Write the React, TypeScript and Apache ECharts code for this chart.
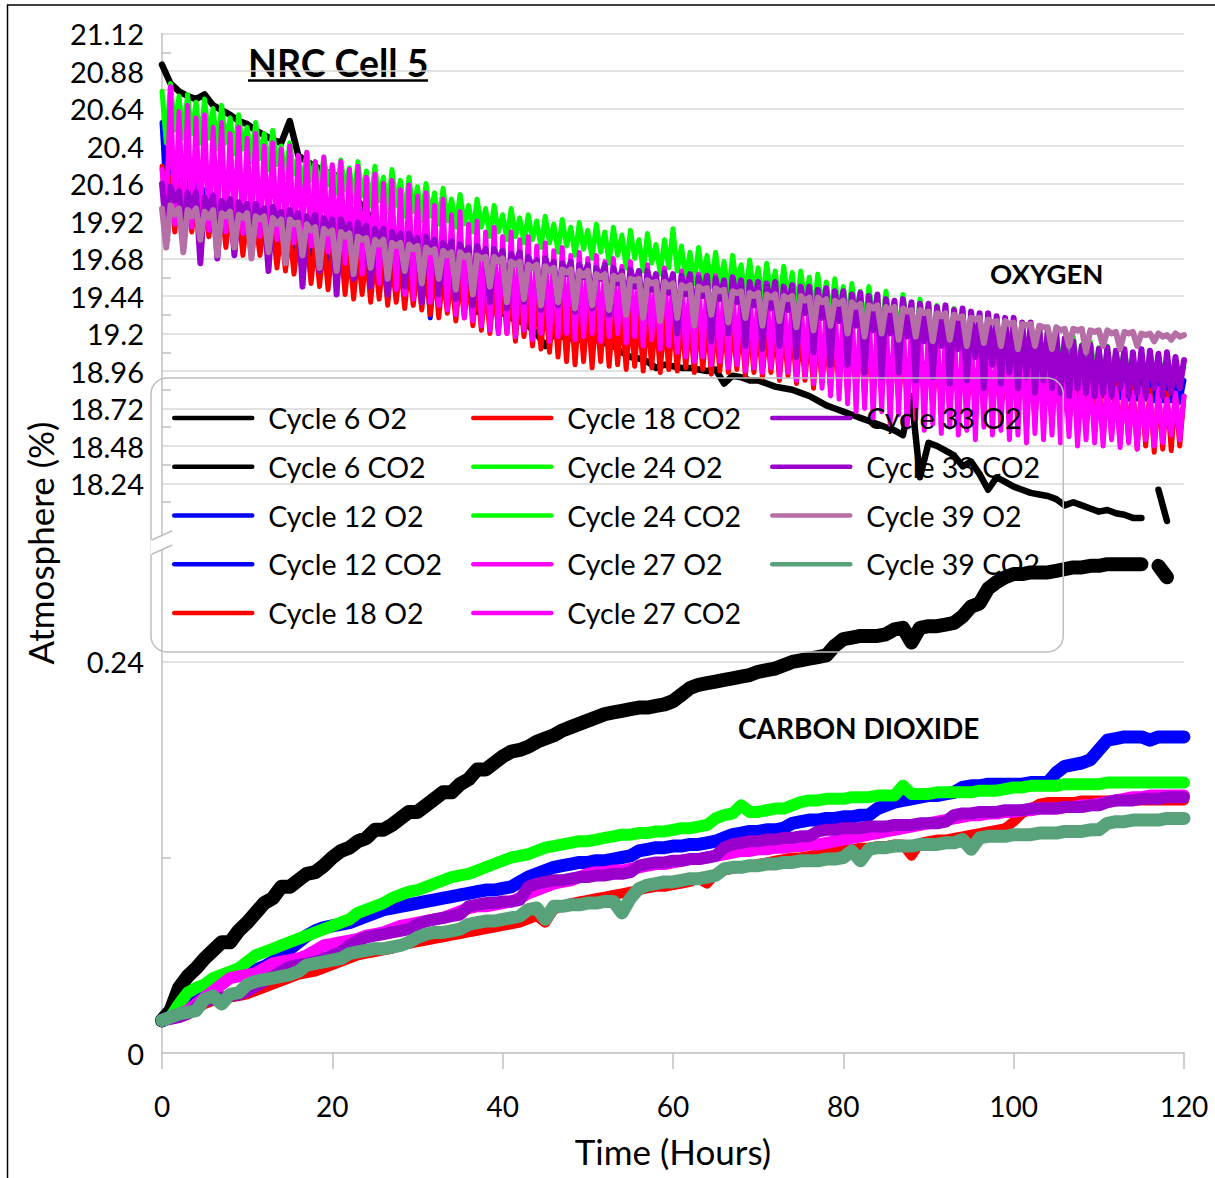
import React, { useEffect, useRef } from "react";
import * as echarts from "echarts";

const HOURS = [
  0, 1, 2, 3, 4, 5, 6, 7, 8, 9,
  10, 11, 12, 13, 14, 15, 16, 17, 18, 19,
  20, 21, 22, 23, 24, 25, 26, 27, 28, 29,
  30, 31, 32, 33, 34, 35, 36, 37, 38, 39,
  40, 41, 42, 43, 44, 45, 46, 47, 48, 49,
  50, 51, 52, 53, 54, 55, 56, 57, 58, 59,
  60, 61, 62, 63, 64, 65, 66, 67, 68, 69,
  70, 71, 72, 73, 74, 75, 76, 77, 78, 79,
  80, 81, 82, 83, 84, 85, 86, 87, 88, 89,
  90, 91, 92, 93, 94, 95, 96, 97, 98, 99,
  100, 101, 102, 103, 104, 105, 106, 107, 108, 109,
  110, 111, 112, 113, 114, 115, 116, 117, 118, 119, 120,
];
const HALF_HOURS = [
  0.5, 1.5, 2.5, 3.5, 4.5, 5.5, 6.5, 7.5, 8.5, 9.5,
  10.5, 11.5, 12.5, 13.5, 14.5, 15.5, 16.5, 17.5, 18.5, 19.5,
  20.5, 21.5, 22.5, 23.5, 24.5, 25.5, 26.5, 27.5, 28.5, 29.5,
  30.5, 31.5, 32.5, 33.5, 34.5, 35.5, 36.5, 37.5, 38.5, 39.5,
  40.5, 41.5, 42.5, 43.5, 44.5, 45.5, 46.5, 47.5, 48.5, 49.5,
  50.5, 51.5, 52.5, 53.5, 54.5, 55.5, 56.5, 57.5, 58.5, 59.5,
  60.5, 61.5, 62.5, 63.5, 64.5, 65.5, 66.5, 67.5, 68.5, 69.5,
  70.5, 71.5, 72.5, 73.5, 74.5, 75.5, 76.5, 77.5, 78.5, 79.5,
  80.5, 81.5, 82.5, 83.5, 84.5, 85.5, 86.5, 87.5, 88.5, 89.5,
  90.5, 91.5, 92.5, 93.5, 94.5, 95.5, 96.5, 97.5, 98.5, 99.5,
  100.5, 101.5, 102.5, 103.5, 104.5, 105.5, 106.5, 107.5, 108.5, 109.5,
  110.5, 111.5, 112.5, 113.5, 114.5, 115.5, 116.5, 117.5, 118.5, 119.5,
];

const O2_TICK_LABELS = [18.24, 18.48, 18.72, 18.96, 19.2, 19.44, 19.68, 19.92, 20.16, 20.4, 20.64, 20.88, 21.12];
const O2_MINOR_TICKS = [18.12, 18.36, 18.6, 18.84, 19.08, 19.32, 19.56, 19.8, 20.04, 20.28, 20.52, 20.76, 21.0];
const CO2_TICK_LABELS = [0, 0.24];
const CO2_MINOR_TICKS = [0.12];

// ---- Oxygen (%), hourly readings; for the noisy cycles also the dips between readings ----
const CYCLE6_O2 = [
  20.92, 20.8, 20.75, 20.72, 20.7, 20.73, 20.66, 20.63, 20.6, 20.56,
  20.54, 20.5, 20.47, 20.44, 20.42, 20.56, 20.34, 20.3, 20.27, 20.24,
  20.22, 20.2, 20.12, 20.05, 19.98, 19.9, 19.62, 19.82, 19.78, 19.74,
  19.7, 19.66, 19.62, 19.58, 19.54, 19.5, 19.46, 19.34, 19.4, 19.36,
  19.33, 19.3, 19.28, 19.25, 19.2, 19.12, 19.2, 19.18, 19.17, 19.16,
  19.18, 19.16, 19.14, 19.12, 19.08, 19.05, 19.04, 19.02, 18.98, 19.0,
  18.99, 18.98, 18.98, 18.97, 18.96, 18.97, 18.88, 18.93, 18.92, 18.9,
  18.9, 18.88, 18.86, 18.85, 18.84, 18.82, 18.8, 18.77, 18.74, 18.72,
  18.7, 18.68, 18.66, 18.64, 18.62, 18.6, 18.58, 18.55, 18.8, 18.28,
  18.5, 18.48, 18.45, 18.42, 18.35, 18.38, 18.3, 18.2, 18.28, 18.25,
  18.22, 18.2, 18.18, 18.17, 18.16, 18.14, 18.1, 18.12, 18.1, 18.08,
  18.06, 18.07, 18.05, 18.04, 18.02, 18.02, null, 18.2, 18.0, null, null,
];
const CYCLE12_O2_HI = [
  20.55, 20.3, 20.25, 20.2, 20.16, 20.12, 20.09, 20.05, 20.03, 20.0,
  19.98, 19.96, 19.94, 19.92, 19.9, 19.88, 19.86, 19.84, 19.82, 19.8,
  19.79, 19.78, 19.77, 19.76, 19.75, 19.74, 19.72, 19.71, 19.7, 19.69,
  19.68, 19.67, 19.66, 19.65, 19.64, 19.63, 19.62, 19.61, 19.6, 19.59,
  19.58, 19.57, 19.56, 19.55, 19.54, 19.53, 19.52, 19.51, 19.5, 19.49,
  19.48, 19.47, 19.46, 19.45, 19.44, 19.43, 19.42, 19.41, 19.4, 19.39,
  19.38, 19.37, 19.36, 19.35, 19.34, 19.33, 19.32, 19.31, 19.3, 19.29,
  19.28, 19.27, 19.26, 19.25, 19.24, 19.23, 19.22, 19.21, 19.2, 19.19,
  19.18, 19.17, 19.16, 19.15, 19.14, 19.13, 19.12, 19.11, 19.1, 19.09,
  19.08, 19.07, 19.06, 19.05, 19.05, 19.04, 19.03, 19.02, 19.01, 19.0,
  19.0, 18.99, 18.98, 18.97, 18.96, 18.96, 18.95, 18.94, 18.93, 18.93,
  18.92, 18.92, 18.91, 18.9, 18.9, 18.9, 18.9, 18.9, 18.9, 18.9, 18.9,
];
const CYCLE12_O2_LO = [
  20.1, 20.0, 19.95, 19.92, 19.9, 19.88, 19.85, 19.82, 19.8, 19.78,
  19.76, 19.75, 19.72, 19.7, 19.68, 19.66, 19.65, 19.62, 19.6, 19.58,
  19.57, 19.55, 19.54, 19.52, 19.5, 19.5, 19.48, 19.47, 19.46, 19.45,
  19.44, 19.3, 19.42, 19.4, 19.4, 19.38, 19.37, 19.36, 19.35, 19.2,
  19.33, 19.32, 19.3, 19.3, 19.28, 19.27, 19.26, 19.25, 19.24, 19.23,
  19.22, 19.21, 19.2, 19.2, 19.18, 19.18, 19.17, 19.16, 19.15, 19.15,
  19.14, 19.08, 19.12, 19.12, 19.1, 19.1, 19.09, 19.08, 19.07, 19.06,
  19.06, 19.05, 19.04, 19.03, 19.02, 19.02, 19.01, 19.0, 18.99, 18.98,
  18.98, 18.97, 18.96, 18.95, 18.95, 18.94, 18.93, 18.92, 18.92, 18.91,
  18.9, 18.88, 18.89, 18.78, 18.88, 18.87, 18.86, 18.86, 18.85, 18.85,
  18.84, 18.84, 18.83, 18.83, 18.82, 18.82, 18.81, 18.81, 18.8, 18.8,
  18.8, 18.79, 18.79, 18.78, 18.78, 18.78, 18.77, 18.77, 18.77, 18.76,
];
const CYCLE18_O2_HI = [
  20.27, 20.2, 20.15, 20.12, 20.1, 20.06, 20.03, 20.0, 19.98, 19.96,
  19.94, 19.92, 19.9, 19.88, 19.86, 19.84, 19.82, 19.8, 19.79, 19.78,
  19.76, 19.75, 19.73, 19.72, 19.7, 19.69, 19.68, 19.66, 19.65, 19.64,
  19.62, 19.61, 19.6, 19.58, 19.57, 19.56, 19.55, 19.53, 19.52, 19.5,
  19.5, 19.48, 19.47, 19.45, 19.44, 19.42, 19.41, 19.4, 19.39, 19.38,
  19.37, 19.36, 19.36, 19.35, 19.34, 19.33, 19.33, 19.32, 19.31, 19.3,
  19.3, 19.3, 19.29, 19.29, 19.28, 19.28, 19.27, 19.26, 19.26, 19.25,
  19.25, 19.24, 19.24, 19.23, 19.23, 19.22, 19.22, 19.21, 19.2, 19.2,
  19.2, 19.18, 19.17, 19.15, 19.14, 19.12, 19.1, 19.09, 19.08, 19.06,
  19.05, 19.05, 19.04, 19.04, 19.03, 19.02, 19.02, 19.01, 19.0, 19.0,
  19.0, 18.99, 18.98, 18.97, 18.96, 18.95, 18.94, 18.93, 18.92, 18.91,
  18.9, 18.89, 18.88, 18.87, 18.86, 18.85, 18.84, 18.83, 18.82, 18.81, 18.8,
];
const CYCLE18_O2_LO = [
  19.95, 19.85, 19.8, 19.85, 19.8, 19.82, 19.78, 19.75, 19.72, 19.7,
  19.68, 19.7, 19.65, 19.62, 19.6, 19.58, 19.55, 19.52, 19.5, 19.48,
  19.5, 19.45, 19.42, 19.45, 19.4, 19.42, 19.38, 19.4, 19.36, 19.38,
  19.35, 19.32, 19.3, 19.33, 19.28, 19.3, 19.25, 19.22, 19.2, 19.22,
  19.2, 19.15, 19.18, 19.12, 19.1, 19.08, 19.05, 19.02, 19.0, 19.02,
  18.98, 19.02, 18.99, 19.0, 18.97, 18.99, 18.96, 18.98, 18.95, 18.97,
  18.96, 18.98, 18.95, 18.97, 18.94, 18.96, 18.95, 18.97, 18.93, 18.95,
  18.92, 18.95, 18.9, 18.93, 18.88, 18.9, 18.85, 18.88, 18.83, 18.85,
  18.82, 18.84, 18.8, 18.83, 18.8, 18.82, 18.78, 18.8, 18.78, 18.8,
  18.75, 18.78, 18.72, 18.75, 18.7, 18.73, 18.7, 18.72, 18.68, 18.7,
  18.68, 18.7, 18.66, 18.68, 18.64, 18.66, 18.62, 18.64, 18.58, 18.6,
  18.52, 18.55, 18.5, 18.52, 18.46, 18.48, 18.44, 18.46, 18.45, 18.48,
];
const CYCLE24_O2_HI = [
  20.75, 20.8, 20.72, 20.73, 20.68, 20.7, 20.64, 20.66, 20.58, 20.6,
  20.52, 20.55, 20.48, 20.5, 20.4, 20.42, 20.33, 20.36, 20.3, 20.33,
  20.28, 20.31, 20.26, 20.3, 20.24, 20.27, 20.2, 20.25, 20.18, 20.2,
  20.14, 20.16, 20.1, 20.13, 20.06, 20.09, 20.02, 20.06, 20.0, 20.02,
  19.96, 20.0, 19.94, 19.96, 19.92, 19.95, 19.9, 19.93, 19.88, 19.91,
  19.86, 19.9, 19.85, 19.88, 19.83, 19.86, 19.8, 19.84, 19.77, 19.8,
  19.87, 19.76, 19.72, 19.75, 19.7, 19.72, 19.66, 19.7, 19.64, 19.67,
  19.62, 19.65, 19.6, 19.63, 19.59, 19.6, 19.56, 19.58, 19.53, 19.55,
  19.5, 19.52, 19.47, 19.5, 19.44, 19.47, 19.41, 19.45, 19.39, 19.42,
  19.36, 19.38, 19.33, 19.36, 19.3, 19.33, 19.28, 19.31, 19.26, 19.28,
  19.24, 19.26, 19.21, 19.23, 19.19, 19.2, 19.16, 19.18, 19.13, 19.15,
  19.11, 19.12, 19.08, 19.1, 19.05, 19.07, 19.02, 19.05, 19.0, 19.01, 18.98,
];
const CYCLE24_O2_LO = [
  20.42, 20.5, 20.45, 20.48, 20.42, 20.45, 20.38, 20.42, 20.35, 20.38,
  20.3, 20.32, 20.25, 20.28, 20.2, 20.22, 20.15, 20.18, 20.12, 20.15,
  20.1, 20.12, 20.05, 20.08, 20.02, 20.05, 19.98, 20.02, 19.95, 19.98,
  19.92, 19.95, 19.9, 19.92, 19.88, 19.9, 19.85, 19.88, 19.82, 19.85,
  19.8, 19.82, 19.78, 19.8, 19.75, 19.78, 19.72, 19.76, 19.7, 19.74,
  19.68, 19.72, 19.65, 19.7, 19.62, 19.68, 19.6, 19.65, 19.58, 19.62,
  19.6, 19.55, 19.52, 19.55, 19.5, 19.52, 19.45, 19.5, 19.42, 19.46,
  19.4, 19.44, 19.38, 19.42, 19.35, 19.4, 19.32, 19.36, 19.3, 19.34,
  19.28, 19.32, 19.25, 19.3, 19.22, 19.26, 19.2, 19.24, 19.15, 19.2,
  19.12, 19.18, 19.1, 19.15, 19.08, 19.12, 19.05, 19.1, 19.02, 19.08,
  19.0, 19.05, 18.98, 19.02, 18.95, 19.0, 18.95, 18.98, 18.92, 18.96,
  18.9, 18.95, 18.95, 18.92, 18.88, 18.92, 18.9, 18.95, 18.92, 18.95,
];
const CYCLE27_O2_HI = [
  20.25, 20.78, 20.62, 20.66, 20.58, 20.6, 20.52, 20.55, 20.48, 20.52,
  20.45, 20.48, 20.4, 20.42, 20.38, 20.4, 20.34, 20.36, 20.3, 20.33,
  20.28, 20.3, 20.25, 20.27, 20.2, 20.22, 20.16, 20.18, 20.12, 20.15,
  20.08, 20.1, 20.02, 20.06, 19.96, 19.98, 19.9, 19.92, 19.85, 19.88,
  19.82, 19.85, 19.8, 19.82, 19.76, 19.78, 19.73, 19.75, 19.7, 19.72,
  19.68, 19.7, 19.66, 19.68, 19.63, 19.66, 19.6, 19.64, 19.58, 19.62,
  19.56, 19.6, 19.55, 19.58, 19.53, 19.57, 19.52, 19.55, 19.5, 19.53,
  19.48, 19.52, 19.46, 19.5, 19.44, 19.48, 19.42, 19.46, 19.4, 19.44,
  19.38, 19.42, 19.35, 19.4, 19.33, 19.38, 19.3, 19.36, 19.28, 19.34,
  19.26, 19.32, 19.24, 19.3, 19.22, 19.28, 19.2, 19.26, 19.18, 19.24,
  19.15, 19.2, 19.1, 19.15, 19.05, 19.1, 18.98, 19.0, 18.92, 18.95,
  18.88, 18.9, 18.85, 18.88, 18.82, 18.85, 18.8, 18.85, 18.78, 18.82, 18.8,
];
const CYCLE27_O2_LO = [
  19.95, 19.9, 19.92, 19.88, 19.9, 19.86, 19.92, 19.85, 19.88, 19.84,
  19.86, 19.82, 19.85, 19.8, 19.83, 19.78, 19.8, 19.76, 19.78, 19.72,
  19.7, 19.65, 19.62, 19.58, 19.55, 19.52, 19.5, 19.48, 19.45, 19.42,
  19.45, 19.4, 19.38, 19.35, 19.32, 19.3, 19.28, 19.25, 19.22, 19.2,
  19.2, 19.18, 19.22, 19.16, 19.2, 19.15, 19.18, 19.2, 19.16, 19.18,
  19.2, 19.15, 19.18, 19.2, 19.14, 19.18, 19.12, 19.16, 19.1, 19.12,
  19.08, 19.05, 19.02, 19.05, 19.0, 19.02, 18.98, 19.0, 18.96, 18.98,
  18.95, 18.98, 18.92, 18.95, 18.9, 18.92, 18.88, 18.85, 18.8, 18.78,
  18.75, 18.7, 18.72, 18.66, 18.7, 18.62, 18.68, 18.6, 18.65, 18.58,
  18.62, 18.56, 18.6, 18.55, 18.58, 18.52, 18.6, 18.55, 18.58, 18.52,
  18.55, 18.5, 18.56, 18.52, 18.55, 18.5, 18.54, 18.48, 18.52, 18.5,
  18.48, 18.52, 18.47, 18.5, 18.46, 18.52, 18.48, 18.5, 18.55, 18.52,
];
const CYCLE33_O2_HI = [
  20.16, 20.14, 20.11, 20.1, 20.1, 20.07, 20.08, 20.05, 20.06, 20.04,
  20.03, 20.03, 20.0, 20.01, 19.98, 19.99, 19.97, 19.95, 19.96, 19.94,
  19.93, 19.93, 19.9, 19.91, 19.89, 19.87, 19.87, 19.85, 19.84, 19.84,
  19.81, 19.82, 19.8, 19.78, 19.79, 19.77, 19.75, 19.76, 19.74, 19.74,
  19.73, 19.71, 19.72, 19.69, 19.67, 19.68, 19.66, 19.65, 19.66, 19.64,
  19.64, 19.62, 19.64, 19.62, 19.6, 19.61, 19.6, 19.6, 19.58, 19.59,
  19.58, 19.57, 19.58, 19.56, 19.57, 19.55, 19.54, 19.56, 19.54, 19.53,
  19.53, 19.52, 19.53, 19.5, 19.51, 19.5, 19.5, 19.48, 19.49, 19.47,
  19.47, 19.45, 19.46, 19.44, 19.45, 19.42, 19.41, 19.42, 19.4, 19.39,
  19.39, 19.37, 19.38, 19.35, 19.36, 19.34, 19.33, 19.33, 19.31, 19.3,
  19.3, 19.27, 19.27, 19.24, 19.22, 19.2, 19.17, 19.15, 19.12, 19.13,
  19.1, 19.11, 19.09, 19.1, 19.08, 19.1, 19.09, 19.07, 19.08, 19.05, 19.03,
];
const CYCLE33_O2_LO = [
  19.85, 20.05, 19.8, 20.02, 19.65, 20.0, 19.68, 19.98, 19.7, 19.96,
  19.75, 19.95, 19.6, 19.93, 19.7, 19.9, 19.5, 19.88, 19.6, 19.86,
  19.45, 19.84, 19.55, 19.82, 19.5, 19.8, 19.45, 19.78, 19.5, 19.76,
  19.4, 19.74, 19.45, 19.72, 19.42, 19.7, 19.38, 19.68, 19.4, 19.66,
  19.36, 19.64, 19.4, 19.62, 19.35, 19.6, 19.38, 19.58, 19.34, 19.56,
  19.36, 19.55, 19.32, 19.52, 19.34, 19.5, 19.3, 19.48, 19.32, 19.46,
  19.2, 19.45, 19.25, 19.44, 19.15, 19.42, 19.2, 19.4, 19.12, 19.38,
  19.1, 19.36, 19.12, 19.35, 19.05, 19.33, 19.08, 19.3, 19.0, 19.28,
  19.0, 19.25, 18.95, 19.22, 18.92, 19.2, 18.95, 19.18, 18.9, 19.15,
  18.92, 19.12, 18.88, 19.1, 18.9, 19.05, 18.85, 19.0, 18.88, 18.95,
  18.85, 18.92, 18.82, 18.9, 18.85, 18.82, 18.8, 18.85, 18.82, 18.8,
  18.82, 18.8, 18.85, 18.8, 18.82, 18.8, 18.85, 18.8, 18.82, 18.85,
];
const CYCLE39_O2_HI = [
  20.0, 20.02, 20.0, 19.99, 20.0, 19.98, 19.99, 19.97, 19.98, 19.96,
  19.97, 19.95, 19.95, 19.94, 19.93, 19.93, 19.91, 19.9, 19.88, 19.87,
  19.86, 19.85, 19.84, 19.82, 19.81, 19.8, 19.8, 19.78, 19.78, 19.77,
  19.76, 19.75, 19.74, 19.73, 19.72, 19.72, 19.7, 19.7, 19.69, 19.69,
  19.68, 19.66, 19.66, 19.64, 19.64, 19.63, 19.62, 19.61, 19.61, 19.6,
  19.6, 19.58, 19.58, 19.57, 19.57, 19.55, 19.55, 19.54, 19.53, 19.53,
  19.52, 19.51, 19.51, 19.5, 19.49, 19.49, 19.48, 19.47, 19.47, 19.46,
  19.46, 19.45, 19.45, 19.44, 19.44, 19.44, 19.43, 19.43, 19.42, 19.41,
  19.41, 19.4, 19.39, 19.38, 19.38, 19.37, 19.37, 19.36, 19.35, 19.35,
  19.34, 19.33, 19.33, 19.32, 19.31, 19.3, 19.3, 19.29, 19.28, 19.28,
  19.27, 19.26, 19.26, 19.25, 19.24, 19.24, 19.23, 19.23, 19.23, 19.22,
  19.22, 19.22, 19.21, 19.21, 19.21, 19.2, 19.2, 19.2, 19.19, 19.2, 19.19,
];
const CYCLE39_O2_LO = [
  19.75, 19.96, 19.72, 19.95, 19.8, 19.94, 19.7, 19.95, 19.75, 19.94,
  19.68, 19.93, 19.72, 19.9, 19.65, 19.9, 19.7, 19.86, 19.62, 19.84,
  19.6, 19.82, 19.58, 19.8, 19.62, 19.77, 19.55, 19.76, 19.6, 19.74,
  19.52, 19.72, 19.55, 19.7, 19.48, 19.69, 19.45, 19.68, 19.5, 19.66,
  19.4, 19.64, 19.42, 19.62, 19.38, 19.6, 19.4, 19.59, 19.36, 19.57,
  19.38, 19.56, 19.35, 19.55, 19.32, 19.54, 19.3, 19.52, 19.28, 19.5,
  19.3, 19.49, 19.25, 19.48, 19.32, 19.47, 19.27, 19.46, 19.3, 19.44,
  19.25, 19.43, 19.28, 19.42, 19.24, 19.41, 19.22, 19.4, 19.25, 19.39,
  19.2, 19.37, 19.18, 19.36, 19.2, 19.35, 19.16, 19.34, 19.18, 19.33,
  19.15, 19.31, 19.16, 19.3, 19.12, 19.29, 19.14, 19.27, 19.12, 19.26,
  19.1, 19.25, 19.12, 19.24, 19.1, 19.22, 19.12, 19.22, 19.08, 19.21,
  19.12, 19.2, 19.1, 19.2, 19.12, 19.19, 19.15, 19.18, 19.16, 19.18,
];

// ---- Carbon dioxide (%), hourly readings ----
const CYCLE6_CO2 = [
  0.02, 0.026, 0.04, 0.047, 0.052, 0.058, 0.063, 0.068, 0.068, 0.075,
  0.08, 0.086, 0.092, 0.095, 0.102, 0.102, 0.106, 0.11, 0.111, 0.115,
  0.12, 0.124, 0.126, 0.13, 0.132, 0.137, 0.137, 0.14, 0.144, 0.148,
  0.148, 0.152, 0.156, 0.16, 0.16, 0.165, 0.168, 0.174, 0.174, 0.178,
  0.182, 0.185, 0.186, 0.188, 0.191, 0.193, 0.195, 0.198, 0.2, 0.202,
  0.204, 0.206, 0.208, 0.209, 0.21, 0.211, 0.212, 0.212, 0.213, 0.214,
  0.216, 0.22, 0.224, 0.226, 0.227, 0.228, 0.229, 0.23, 0.231, 0.232,
  0.234, 0.235, 0.236, 0.238, 0.24, 0.241, 0.242, 0.243, 0.244, 0.25,
  0.254, 0.255, 0.256, 0.256, 0.256, 0.257, 0.26, 0.261, 0.252, 0.261,
  0.262, 0.262, 0.263, 0.264, 0.268, 0.274, 0.276, 0.285, 0.289, 0.292,
  0.294, 0.294, 0.295, 0.295, 0.295, 0.296, 0.297, 0.298, 0.298, 0.299,
  0.299, 0.3, 0.3, 0.3, 0.3, 0.3, null, 0.299, 0.292, null, null,
];
const CYCLE12_CO2 = [
  0.02, 0.022, 0.028, 0.032, 0.036, 0.039, 0.042, 0.045, 0.047, 0.049,
  0.05, 0.051, 0.053, 0.056, 0.06, 0.064, 0.068, 0.072, 0.075, 0.077,
  0.078, 0.079, 0.08, 0.082, 0.084, 0.086, 0.088, 0.089, 0.09, 0.091,
  0.092, 0.093, 0.094, 0.095, 0.096, 0.097, 0.098, 0.099, 0.1, 0.1,
  0.101, 0.102, 0.105, 0.108, 0.11, 0.112, 0.114, 0.115, 0.116, 0.117,
  0.117, 0.118, 0.118, 0.119, 0.12, 0.121, 0.124, 0.125, 0.126, 0.126,
  0.127, 0.127, 0.128, 0.128, 0.129, 0.13, 0.132, 0.134, 0.135, 0.136,
  0.136, 0.137, 0.137, 0.138, 0.141, 0.142, 0.143, 0.143, 0.144, 0.144,
  0.145, 0.145, 0.146, 0.146, 0.15, 0.152, 0.154, 0.155, 0.156, 0.157,
  0.158, 0.158, 0.159, 0.16, 0.163, 0.164, 0.164, 0.165, 0.165, 0.165,
  0.165, 0.165, 0.166, 0.166, 0.166, 0.172, 0.176, 0.177, 0.178, 0.18,
  0.186, 0.192, 0.193, 0.194, 0.194, 0.194, 0.192, 0.194, 0.194, 0.194, 0.194,
];
const CYCLE18_CO2 = [
  0.02, 0.021, 0.022, 0.024, 0.027, 0.03, 0.032, 0.033, 0.034, 0.035,
  0.036, 0.038, 0.04, 0.042, 0.044, 0.046, 0.048, 0.049, 0.05, 0.052,
  0.054, 0.056, 0.058, 0.06, 0.061, 0.062, 0.063, 0.064, 0.066, 0.067,
  0.068, 0.069, 0.07, 0.071, 0.072, 0.073, 0.074, 0.075, 0.076, 0.077,
  0.078, 0.079, 0.08, 0.082, 0.084, 0.08, 0.088, 0.09, 0.092, 0.093,
  0.094, 0.095, 0.096, 0.097, 0.098, 0.099, 0.1, 0.101, 0.102, 0.102,
  0.103, 0.104, 0.105, 0.107, 0.104, 0.11, 0.112, 0.113, 0.114, 0.115,
  0.116, 0.117, 0.118, 0.119, 0.12, 0.12, 0.121, 0.122, 0.123, 0.124,
  0.125, 0.125, 0.126, 0.126, 0.127, 0.127, 0.128, 0.128, 0.121, 0.129,
  0.13, 0.131, 0.131, 0.132, 0.133, 0.134, 0.135, 0.136, 0.137, 0.138,
  0.142, 0.147, 0.15, 0.153, 0.154, 0.154, 0.154, 0.154, 0.155, 0.155,
  0.155, 0.155, 0.155, 0.155, 0.155, 0.155, 0.155, 0.155, 0.155, 0.155, 0.155,
];
const CYCLE24_CO2 = [
  0.02, 0.022, 0.03, 0.037, 0.04, 0.042, 0.046, 0.048, 0.05, 0.052,
  0.056, 0.06, 0.062, 0.064, 0.066, 0.068, 0.07, 0.072, 0.074, 0.076,
  0.078, 0.08, 0.082, 0.086, 0.088, 0.09, 0.092, 0.095, 0.097, 0.099,
  0.1, 0.102, 0.104, 0.106, 0.108, 0.109, 0.11, 0.112, 0.114, 0.116,
  0.118, 0.12, 0.121, 0.122, 0.124, 0.126, 0.127, 0.128, 0.129, 0.13,
  0.13, 0.131, 0.132, 0.133, 0.134, 0.134, 0.135, 0.135, 0.136, 0.136,
  0.137, 0.138, 0.138, 0.139, 0.14, 0.144, 0.146, 0.147, 0.152, 0.148,
  0.148, 0.149, 0.15, 0.15, 0.152, 0.154, 0.155, 0.155, 0.156, 0.156,
  0.156, 0.157, 0.157, 0.157, 0.158, 0.158, 0.158, 0.164, 0.159, 0.159,
  0.159, 0.16, 0.16, 0.16, 0.16, 0.16, 0.161, 0.161, 0.161, 0.162,
  0.163, 0.163, 0.164, 0.164, 0.164, 0.164, 0.165, 0.165, 0.165, 0.165,
  0.165, 0.166, 0.166, 0.166, 0.166, 0.166, 0.166, 0.166, 0.166, 0.166, 0.166,
];
const CYCLE27_CO2 = [
  0.02, 0.022, 0.024, 0.026, 0.03, 0.034, 0.038, 0.042, 0.046, 0.047,
  0.048, 0.049, 0.052, 0.055, 0.056, 0.057, 0.058, 0.06, 0.063, 0.066,
  0.067, 0.068, 0.069, 0.07, 0.072, 0.073, 0.074, 0.076, 0.078, 0.079,
  0.08, 0.081, 0.082, 0.083, 0.085, 0.087, 0.089, 0.09, 0.09, 0.091,
  0.092, 0.093, 0.095, 0.098, 0.1, 0.102, 0.104, 0.105, 0.106, 0.108,
  0.11, 0.111, 0.111, 0.112, 0.112, 0.113, 0.114, 0.115, 0.116, 0.116,
  0.117, 0.118, 0.119, 0.119, 0.12, 0.121, 0.122, 0.123, 0.124, 0.124,
  0.125, 0.125, 0.126, 0.126, 0.127, 0.127, 0.128, 0.128, 0.129, 0.13,
  0.131, 0.132, 0.133, 0.134, 0.135, 0.136, 0.137, 0.138, 0.139, 0.14,
  0.141, 0.142, 0.143, 0.144, 0.145, 0.146, 0.146, 0.147, 0.147, 0.148,
  0.148, 0.149, 0.149, 0.15, 0.15, 0.15, 0.151, 0.151, 0.152, 0.152,
  0.153, 0.154, 0.155, 0.156, 0.157, 0.157, 0.158, 0.158, 0.158, 0.158, 0.158,
];
const CYCLE33_CO2 = [
  0.02, 0.021, 0.022, 0.024, 0.028, 0.032, 0.033, 0.034, 0.035, 0.036,
  0.038, 0.041, 0.044, 0.047, 0.05, 0.053, 0.054, 0.055, 0.056, 0.058,
  0.06, 0.062, 0.066, 0.069, 0.071, 0.072, 0.073, 0.074, 0.075, 0.076,
  0.079, 0.081, 0.082, 0.083, 0.084, 0.085, 0.09, 0.091, 0.092, 0.092,
  0.093, 0.093, 0.094, 0.102, 0.104, 0.105, 0.106, 0.106, 0.107, 0.108,
  0.108, 0.109, 0.109, 0.11, 0.11, 0.111, 0.115, 0.116, 0.117, 0.117,
  0.118, 0.118, 0.119, 0.119, 0.12, 0.121, 0.126, 0.128, 0.129, 0.13,
  0.13, 0.131, 0.131, 0.132, 0.132, 0.133, 0.133, 0.136, 0.137, 0.137,
  0.138, 0.138, 0.138, 0.139, 0.139, 0.139, 0.14, 0.14, 0.14, 0.141,
  0.141, 0.141, 0.142, 0.146, 0.147, 0.147, 0.148, 0.148, 0.148, 0.149,
  0.149, 0.149, 0.15, 0.15, 0.15, 0.15, 0.151, 0.151, 0.151, 0.152,
  0.152, 0.154, 0.155, 0.155, 0.155, 0.156, 0.156, 0.156, 0.157, 0.157, 0.157,
];
const CYCLE39_CO2 = [
  0.02, 0.022, 0.024, 0.025, 0.026, 0.033, 0.035, 0.03, 0.036, 0.037,
  0.042, 0.044, 0.045, 0.046, 0.047, 0.048, 0.05, 0.054, 0.055, 0.056,
  0.057, 0.058, 0.061, 0.062, 0.063, 0.064, 0.064, 0.065, 0.066, 0.068,
  0.071, 0.073, 0.074, 0.074, 0.075, 0.076, 0.079, 0.08, 0.081, 0.081,
  0.082, 0.083, 0.084, 0.088, 0.089, 0.082, 0.09, 0.09, 0.091, 0.091,
  0.092, 0.092, 0.093, 0.093, 0.086, 0.095, 0.101, 0.103, 0.104, 0.105,
  0.105, 0.106, 0.107, 0.107, 0.108, 0.109, 0.113, 0.114, 0.114, 0.115,
  0.115, 0.116, 0.116, 0.117, 0.117, 0.118, 0.118, 0.118, 0.119, 0.119,
  0.12, 0.124, 0.118, 0.125, 0.126, 0.126, 0.127, 0.127, 0.127, 0.128,
  0.128, 0.128, 0.129, 0.129, 0.131, 0.125, 0.132, 0.133, 0.133, 0.133,
  0.134, 0.134, 0.134, 0.135, 0.135, 0.135, 0.136, 0.136, 0.136, 0.137,
  0.137, 0.141, 0.142, 0.142, 0.143, 0.143, 0.143, 0.143, 0.144, 0.144, 0.144,
];

type SeriesDef = {
  name: string;
  gas: "O2" | "CO2";
  color: string;
  width: number;
  values: (number | null)[];
  dips?: number[];
};

const SERIES_DEFS: SeriesDef[] = [
  { name: "Cycle 6 O2", gas: "O2", color: "#000000", width: 6.5, values: CYCLE6_O2 },
  { name: "Cycle 6 CO2", gas: "CO2", color: "#000000", width: 14, values: CYCLE6_CO2 },
  { name: "Cycle 12 O2", gas: "O2", color: "#0000FF", width: 5, values: CYCLE12_O2_HI, dips: CYCLE12_O2_LO },
  { name: "Cycle 12 CO2", gas: "CO2", color: "#0000FF", width: 13, values: CYCLE12_CO2 },
  { name: "Cycle 18 O2", gas: "O2", color: "#FF0000", width: 5, values: CYCLE18_O2_HI, dips: CYCLE18_O2_LO },
  { name: "Cycle 18 CO2", gas: "CO2", color: "#FF0000", width: 10, values: CYCLE18_CO2 },
  { name: "Cycle 24 O2", gas: "O2", color: "#00FF00", width: 5, values: CYCLE24_O2_HI, dips: CYCLE24_O2_LO },
  { name: "Cycle 24 CO2", gas: "CO2", color: "#00FF00", width: 12, values: CYCLE24_CO2 },
  { name: "Cycle 27 O2", gas: "O2", color: "#FF00FF", width: 5, values: CYCLE27_O2_HI, dips: CYCLE27_O2_LO },
  { name: "Cycle 27 CO2", gas: "CO2", color: "#FF00FF", width: 12, values: CYCLE27_CO2 },
  { name: "Cycle 33 O2", gas: "O2", color: "#9900CC", width: 6, values: CYCLE33_O2_HI, dips: CYCLE33_O2_LO },
  { name: "Cycle 33 CO2", gas: "CO2", color: "#9900CC", width: 12, values: CYCLE33_CO2 },
  { name: "Cycle 39 O2", gas: "O2", color: "#B56FA6", width: 6, values: CYCLE39_O2_HI, dips: CYCLE39_O2_LO },
  { name: "Cycle 39 CO2", gas: "CO2", color: "#57A27A", width: 13, values: CYCLE39_CO2 },
];

const FONT = "Lato, 'Open Sans', sans-serif";
const AXIS_GRAY = "#bfbfbf";
const GRID_GRAY = "#d9d9d9";

function seriesData(def: SeriesDef) {
  const out: (number | null)[][] = [];
  HOURS.forEach((h, i) => {
    out.push([h, def.values[i]]);
    if (def.dips && i < HALF_HOURS.length) out.push([HALF_HOURS[i], def.dips[i]]);
  });
  return out;
}

function buildOption() {
  const plotLeft = 162;
  const plotWidth = 1022;
  const hiddenX = (gridIndex: number) => ({
    type: "value",
    gridIndex,
    min: 0,
    max: 120,
    show: false,
  });

  const series = SERIES_DEFS.map((s) => {
    const idx = s.gas === "O2" ? 0 : 2;
    return {
      type: "line",
      name: s.name,
      xAxisIndex: idx,
      yAxisIndex: idx,
      data: seriesData(s),
      symbol: "none",
      showSymbol: false,
      connectNulls: false,
      silent: true,
      color: s.color,
      lineStyle: { color: s.color, width: s.width, join: "round", cap: "round" },
      itemStyle: { color: s.color },
    };
  });

  const labelFmt = (v: number) => String(Math.round(v * 100) / 100);

  return {
    animation: false,
    backgroundColor: "#ffffff",
    textStyle: { fontFamily: FONT },
    grid: [
      { left: plotLeft, top: 33.5, width: plotWidth, height: 506.25 },
      { left: plotLeft, top: 33.5, width: plotWidth, height: 450 },
      { left: plotLeft, top: 539.8, width: plotWidth, height: 513.2 },
      { left: plotLeft, top: 662, width: plotWidth, height: 391 },
    ],
    xAxis: [
      hiddenX(0),
      hiddenX(1),
      {
        type: "value",
        gridIndex: 2,
        min: 0,
        max: 120,
        interval: 20,
        name: "Time (Hours)",
        nameLocation: "middle",
        nameGap: 80,
        nameTextStyle: { fontSize: 35, fontFamily: FONT, color: "#000" },
        axisLine: { show: true, lineStyle: { color: AXIS_GRAY, width: 1.5 } },
        axisTick: { show: true, inside: false, length: 16, lineStyle: { color: AXIS_GRAY, width: 1.5 } },
        axisLabel: { show: true, margin: 39, fontSize: 28, fontFamily: FONT, color: "#000" },
        splitLine: { show: false },
      },
      hiddenX(3),
    ],
    yAxis: [
      {
        type: "value",
        gridIndex: 0,
        min: 17.88,
        max: 21.12,
        axisLine: { show: true, lineStyle: { color: AXIS_GRAY, width: 1.5 } },
        axisTick: {
          show: true,
          inside: true,
          length: 9,
          customValues: O2_MINOR_TICKS,
          lineStyle: { color: AXIS_GRAY, width: 1.5 },
        },
        axisLabel: {
          show: true,
          customValues: O2_TICK_LABELS,
          margin: 18,
          fontSize: 29,
          fontFamily: FONT,
          color: "#000",
          formatter: labelFmt,
        },
        splitLine: { show: false },
      },
      {
        type: "value",
        gridIndex: 1,
        min: 18.24,
        max: 21.12,
        interval: 0.24,
        axisLine: { show: false },
        axisTick: { show: false },
        axisLabel: { show: false },
        splitLine: { show: true, lineStyle: { color: GRID_GRAY, width: 1.5 } },
      },
      {
        type: "value",
        gridIndex: 2,
        min: 0,
        max: 0.315,
        axisLine: { show: true, lineStyle: { color: AXIS_GRAY, width: 1.5 } },
        axisTick: {
          show: true,
          inside: true,
          length: 9,
          customValues: CO2_MINOR_TICKS,
          lineStyle: { color: AXIS_GRAY, width: 1.5 },
        },
        axisLabel: {
          show: true,
          customValues: CO2_TICK_LABELS,
          margin: 18,
          fontSize: 29,
          fontFamily: FONT,
          color: "#000",
          formatter: labelFmt,
        },
        splitLine: { show: false },
      },
      {
        type: "value",
        gridIndex: 3,
        min: 0,
        max: 0.24,
        interval: 0.24,
        axisLine: { show: false },
        axisTick: { show: false },
        axisLabel: { show: false },
        splitLine: { show: true, showMinLine: false, lineStyle: { color: GRID_GRAY, width: 1.5 } },
      },
    ],
    legend: {
      show: true,
      orient: "vertical",
      left: 151,
      top: 378,
      height: 228,
      padding: [25, 13, 24, 21],
      itemWidth: 78,
      itemHeight: 30,
      itemGap: 18.75,
      borderColor: AXIS_GRAY,
      borderWidth: 1.5,
      borderRadius: 16,
      backgroundColor: "transparent",
      data: SERIES_DEFS.map((s) => s.name),
      lineStyle: { width: 4.5, cap: "round" },
      itemStyle: { opacity: 0 },
      textStyle: {
        fontSize: 28.5,
        fontFamily: FONT,
        color: "#000",
        lineHeight: 30,
        width: 184,
        padding: [0, 0, 0, 11],
      },
    },
    graphic: [
      {
        type: "rect",
        silent: true,
        shape: { x: 7.5, y: 5, width: 1230, height: 1200 },
        style: { fill: "none", stroke: "#000", lineWidth: 1.5 },
      },
      {
        type: "text",
        silent: true,
        x: 248,
        y: 62,
        style: {
          text: "NRC Cell 5",
          fontSize: 37.5,
          fontWeight: "bold",
          fontFamily: FONT,
          fill: "#000",
          verticalAlign: "middle",
        },
      },
      {
        type: "line",
        silent: true,
        shape: { x1: 248, y1: 80.5, x2: 428, y2: 80.5 },
        style: { stroke: "#000", lineWidth: 2.5 },
      },
      {
        type: "text",
        silent: true,
        x: 990,
        y: 273,
        style: {
          text: "OXYGEN",
          fontSize: 27.5,
          fontWeight: "bold",
          fontFamily: FONT,
          fill: "#000",
          verticalAlign: "middle",
        },
      },
      {
        type: "text",
        silent: true,
        x: 738,
        y: 728,
        style: {
          text: "CARBON DIOXIDE",
          fontSize: 28,
          fontWeight: "bold",
          fontFamily: FONT,
          fill: "#000",
          verticalAlign: "middle",
        },
      },
      {
        type: "text",
        silent: true,
        x: 40,
        y: 543,
        rotation: Math.PI / 2,
        style: {
          text: "Atmosphere (%)",
          fontSize: 35,
          fontFamily: FONT,
          fill: "#000",
          align: "center",
          verticalAlign: "middle",
        },
      },
      {
        type: "polygon",
        silent: true,
        z: 100,
        shape: { points: [[150.5, 540.5], [173.5, 530.2], [173.5, 544.5], [150.5, 554.8]] },
        style: { fill: "#ffffff" },
      },
      {
        type: "line",
        silent: true,
        z: 101,
        shape: { x1: 151.7, y1: 540, x2: 172.3, y2: 530.7 },
        style: { stroke: AXIS_GRAY, lineWidth: 1.5 },
      },
      {
        type: "line",
        silent: true,
        z: 101,
        shape: { x1: 151.7, y1: 554.3, x2: 172.3, y2: 545 },
        style: { stroke: AXIS_GRAY, lineWidth: 1.5 },
      },
    ],
    series,
  };
}

export default function App() {
  const ref = useRef<HTMLDivElement>(null);
  useEffect(() => {
    document.body.style.margin = "0";
    if (!ref.current) return;
    const chart = echarts.init(ref.current, undefined, { renderer: "svg" });
    chart.setOption(buildOption() as any);
    return () => {
      chart.dispose();
    };
  }, []);
  return <div ref={ref} style={{ width: 1215, height: 1178 }} />;
}
